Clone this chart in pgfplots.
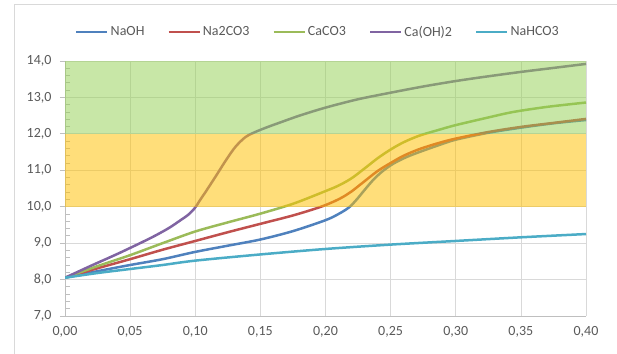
\documentclass[border=0pt]{standalone}
\usepackage{pgfplots}
\pgfplotsset{compat=1.18}
\usepackage{fontspec}
\setmainfont{Carlito}
\definecolor{cNaOH}{HTML}{4F81BD}
\definecolor{cNaCO}{HTML}{C0504D}
\definecolor{cCaCO}{HTML}{9BBB59}
\definecolor{cCaOH}{HTML}{8064A2}
\definecolor{cNaH}{HTML}{4BACC6}
\definecolor{gridc}{HTML}{D9D9D9}
\definecolor{axc}{HTML}{BFBFBF}
\definecolor{txt}{HTML}{595959}
\definecolor{bandG}{HTML}{92D050}
\definecolor{bandY}{HTML}{FFC000}
\begin{document}
\begin{tikzpicture}
\useasboundingbox (0,0) rectangle (617bp,354bp);
\draw[gridc, line width=0.75bp] (14bp,0) -- (14bp,349.3bp) -- (617bp,349.3bp);
\begin{axis}[
  at={(65bp,38bp)}, anchor=south west,
  scale only axis, width=521bp, height=255bp,
  xmin=0, xmax=0.4, ymin=7, ymax=14,
  xtick={0,0.05,0.1,0.15,0.2,0.25,0.3,0.35,0.4},
  ytick={7,8,9,10,11,12,13,14},
  minor y tick num=4,
  axis lines=left,
  axis line style={draw=axc, line width=0.75bp, -},
  grid=major,
  major grid style={draw=gridc, line width=0.75bp},
  tick align=outside,
  major tick length=5bp,
  minor tick length=-5bp,
  xtick style={draw=none},
  ytick style={draw=axc, line width=0.75bp},
  ticklabel style={font=\fontsize{14bp}{16bp}\selectfont, text=txt},
  /pgf/number format/assume math mode=true,
  xticklabel style={yshift=-2bp, /pgf/number format/.cd, fixed, fixed zerofill, precision=2, use comma},
  yticklabel style={xshift=-5bp, /pgf/number format/.cd, fixed, fixed zerofill, precision=1, use comma},
  legend columns=5,
  legend style={at={(0.4856,1.1137)}, anchor=center, draw=none, fill=none,
    font=\fontsize{14bp}{16bp}\selectfont, text=txt,
    /tikz/every even column/.append style={column sep=21bp}},
  legend image code/.code={\draw[#1] (0bp,0bp) -- (31bp,0bp);},
  every axis plot/.append style={line width=2.5bp, smooth, no markers},
]
\addplot[cNaOH] coordinates {(0,8.05)(0.025,8.23)(0.05,8.40)(0.075,8.56)(0.10,8.76)(0.125,8.93)(0.15,9.10)(0.175,9.33)(0.20,9.63)(0.21,9.80)(0.218,9.98)(0.224,10.20)(0.23,10.46)(0.237,10.75)(0.244,10.98)(0.252,11.18)(0.262,11.36)(0.272,11.50)(0.287,11.69)(0.30,11.84)(0.325,12.03)(0.35,12.17)(0.375,12.29)(0.40,12.38)};
\addlegendentry{NaOH}
\addplot[cNaCO] coordinates {(0,8.05)(0.025,8.31)(0.05,8.56)(0.075,8.82)(0.10,9.06)(0.125,9.30)(0.15,9.53)(0.175,9.76)(0.195,9.98)(0.205,10.12)(0.213,10.26)(0.22,10.42)(0.23,10.70)(0.24,10.98)(0.25,11.20)(0.26,11.40)(0.272,11.58)(0.287,11.75)(0.30,11.87)(0.325,12.05)(0.35,12.19)(0.375,12.30)(0.40,12.41)};
\addlegendentry{Na2CO3}
\addplot[cCaCO] coordinates {(0,8.05)(0.025,8.37)(0.05,8.67)(0.075,9.00)(0.10,9.32)(0.125,9.57)(0.15,9.81)(0.175,10.08)(0.198,10.40)(0.21,10.58)(0.22,10.78)(0.23,11.05)(0.24,11.33)(0.25,11.57)(0.26,11.77)(0.272,11.95)(0.287,12.11)(0.30,12.24)(0.325,12.45)(0.344,12.60)(0.37,12.74)(0.40,12.86)};
\addlegendentry{CaCO3}
\addplot[cCaOH] coordinates {(0,8.05)(0.02,8.38)(0.04,8.70)(0.06,9.04)(0.07,9.22)(0.08,9.42)(0.0875,9.60)(0.095,9.79)(0.10,9.98)(0.104,10.20)(0.108,10.41)(0.116,10.85)(0.124,11.30)(0.131,11.65)(0.1385,11.91)(0.146,12.05)(0.155,12.18)(0.165,12.31)(0.18,12.50)(0.20,12.72)(0.225,12.95)(0.25,13.13)(0.275,13.30)(0.30,13.45)(0.325,13.58)(0.35,13.70)(0.375,13.81)(0.40,13.92)};
\addlegendentry{Ca(OH)2}
\addplot[cNaH] coordinates {(0,8.05)(0.025,8.18)(0.05,8.29)(0.075,8.40)(0.10,8.52)(0.15,8.69)(0.20,8.84)(0.25,8.96)(0.30,9.06)(0.35,9.16)(0.40,9.25)};
\addlegendentry{NaHCO3}
\addplot[forget plot, draw=none, fill=bandY, fill opacity=0.52, sharp plot] coordinates {(0,10)(0.4,10)(0.4,12)(0,12)} -- cycle;
\addplot[forget plot, draw=none, fill=bandG, fill opacity=0.5, sharp plot] coordinates {(0,12)(0.4,12)(0.4,14)(0,14)} -- cycle;
\end{axis}
\end{tikzpicture}
\end{document}
